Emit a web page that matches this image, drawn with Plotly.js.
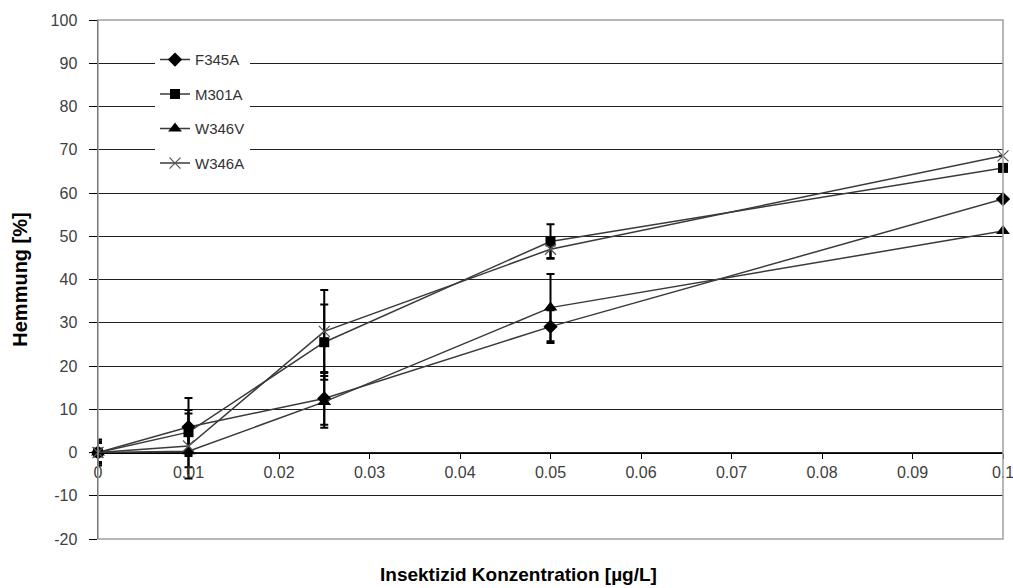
<!DOCTYPE html>
<html>
<head>
<meta charset="utf-8">
<script src="https://cdn.plot.ly/plotly-3.0.1.min.js"></script>
<style>html,body{margin:0;padding:0;background:#fff;}#chart{width:1013px;height:588px;}</style>
</head>
<body>
<div id="chart"></div>
<script>
const concentrations = [0, 0.01, 0.025, 0.05, 0.1];
const seriesNames = ["F345A", "M301A", "W346V", "W346A"];
const F345A = [0, 5.9, 12.5, 29.1, 58.6];
const F345A_err = [3, 6.7, 6.1, 3.8, 0];
const M301A = [0, 4.7, 25.5, 48.8, 65.8];
const M301A_err = [2.6, 5.1, 8.7, 4, 0];
const W346V = [0, 0.3, 11.7, 33.5, 51.2];
const W346V_err = [2.2, 3.7, 6, 7.8, 0];
const W346A = [0, 1.5, 28, 47, 68.6];
const W346A_err = [2.2, 7.5, 9.6, 2, 0];
const xTickValues = [0, 0.01, 0.02, 0.03, 0.04, 0.05, 0.06, 0.07, 0.08, 0.09, 0.1];
const xTickLabels = ["0", "0.01", "0.02", "0.03", "0.04", "0.05", "0.06", "0.07", "0.08", "0.09", "0.1"];
const yTickValues = [-20, -10, 0, 10, 20, 30, 40, 50, 60, 70, 80, 90, 100];
const yTickLabels = ["-20", "-10", "0", "10", "20", "30", "40", "50", "60", "70", "80", "90", "100"];

const values = [F345A, M301A, W346V, W346A];
const errors = [F345A_err, M301A_err, W346V_err, W346A_err];
const symbols = ["diamond", "square", "triangle-up", "x-thin"];
const sizes = [11, 10, 12, 11];

const traces = seriesNames.map((name, i) => ({
  type: "scatter",
  mode: "lines+markers",
  name: name,
  legendgroup: name,
  cliponaxis: false,
  x: concentrations,
  y: values[i],
  line: {color: "#3a3a3a", width: 1.5},
  marker: {
    symbol: symbols[i],
    size: sizes[i],
    color: "#000",
    line: {color: i === 3 ? "#555" : "#000", width: i === 3 ? 1.2 : 0}
  },
  error_y: {type: "data", array: errors[i], visible: true, color: "#000", thickness: 2, width: 4}
}));

const tickFont = {family: "Liberation Sans, Arial, sans-serif", size: 16, color: "#404040"};
const titleFont = {family: "Liberation Sans, Arial, sans-serif", size: 20, color: "#000", weight: "bold"};

const layout = {
  width: 1013, height: 588,
  margin: {l: 98, r: 10, t: 20, b: 49, pad: 0},
  paper_bgcolor: "#fff", plot_bgcolor: "#fff",
  font: tickFont,
  showlegend: true,
  legend: {
    x: 0.063, y: 0.955, xanchor: "left", yanchor: "top",
    bgcolor: "#fff", borderwidth: 0,
    font: {family: "Liberation Sans, Arial, sans-serif", size: 15, color: "#333"},
    tracegroupgap: 12, traceorder: "grouped"
  },
  xaxis: {
    range: [0, 0.1], tickvals: xTickValues, ticktext: xTickLabels,
    anchor: "free", position: 20 / 120,
    showline: true, linecolor: "#000", linewidth: 1.5,
    ticks: "outside", ticklen: 5, tickcolor: "#000",
    ticklabeloverflow: "allow",
    showgrid: false, zeroline: false,
    tickfont: tickFont
  },
  yaxis: {
    range: [-20, 100], tickvals: yTickValues, ticktext: yTickLabels,
    showline: true, linecolor: "#000", linewidth: 1.5,
    ticks: "outside", ticklen: 8, tickcolor: "#000", ticklabelstandoff: 8,
    showgrid: true, gridcolor: "#202020", gridwidth: 1,
    zeroline: false,
    tickfont: tickFont,
    title: {text: "Hemmung [%]", font: titleFont, standoff: 17}
  },
  shapes: [{
    type: "rect", xref: "paper", yref: "paper", x0: 0, x1: 1, y0: 0, y1: 1,
    line: {color: "#a0a0a0", width: 1.5}, layer: "above"
  }],
  annotations: [{
    text: "<b>Insektizid Konzentration [µg/L]</b>",
    xref: "paper", yref: "paper", x: 0.465, y: 0, yanchor: "top", yshift: -23,
    showarrow: false,
    font: {family: "Liberation Sans, Arial, sans-serif", size: 19, color: "#000"}
  }]
};

Plotly.newPlot("chart", traces, layout, {displayModeBar: false, staticPlot: true});
</script>
</body>
</html>
